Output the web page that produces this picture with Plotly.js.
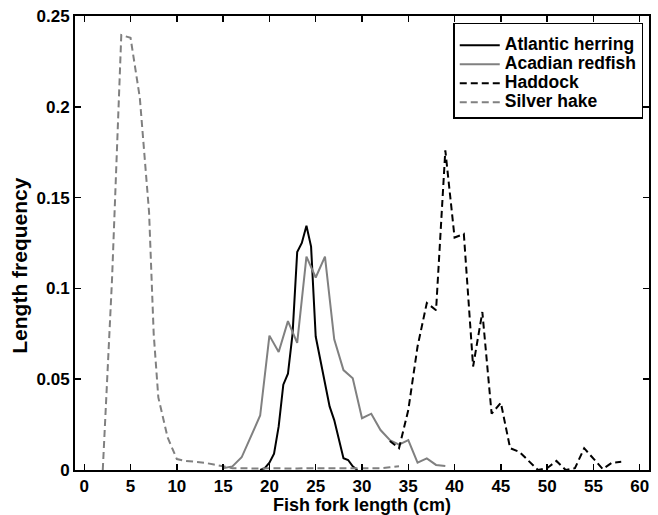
<!DOCTYPE html>
<html>
<head>
<meta charset="utf-8">
<script src="https://cdn.plot.ly/plotly-3.0.1.min.js"></script>
<style>html,body{margin:0;padding:0;background:#fff;}#chart{width:658px;height:515px;}</style>
</head>
<body>
<div id="chart"></div>
<script>
// Atlantic herring
const herringX = [19, 19.5, 20, 20.5, 21, 21.5, 22, 22.5, 23, 23.5, 24, 24.5, 25, 25.5, 26, 26.5, 27, 28, 28.5, 29, 29.5];
const herringY = [0, 0.001, 0.004, 0.009, 0.024, 0.047, 0.053, 0.075, 0.12, 0.125, 0.1345, 0.123, 0.0735, 0.0605, 0.0485, 0.035, 0.0275, 0.0065, 0.0055, 0.002, 0];
// Acadian redfish
const redfishX = [15, 16, 17, 18, 19, 20, 21, 22, 23, 24, 25, 26, 27, 28, 29, 30, 31, 32, 33, 34, 35, 36, 37, 38, 39];
const redfishY = [0.001, 0.002, 0.007, 0.019, 0.030, 0.074, 0.065, 0.082, 0.070, 0.1175, 0.106, 0.1175, 0.072, 0.055, 0.0505, 0.0285, 0.031, 0.022, 0.0165, 0.014, 0.0165, 0.004, 0.0064, 0.0028, 0.0022];
// Haddock
const haddockX = [33, 34, 35, 36, 37, 38, 39, 40, 41, 42, 43, 44, 45, 46, 47, 48, 49, 50, 51, 52, 53, 54, 55, 56, 57, 58];
const haddockY = [0.016, 0.012, 0.033, 0.068, 0.092, 0.088, 0.176, 0.128, 0.13, 0.057, 0.087, 0.031, 0.037, 0.012, 0.010, 0.005, 0, 0.001, 0.005, 0, 0.001, 0.012, 0.006, 0.0005, 0.004, 0.0045];
// Silver hake
const hakeX = [2, 3, 4, 5, 6, 7, 7.5, 8, 9, 10, 11, 12, 13, 14, 15, 16, 17, 18, 19, 20, 21, 22, 23, 24, 25, 26, 27, 28, 29, 30, 31, 32, 33, 34];
const hakeY = [0, 0.105, 0.2395, 0.238, 0.205, 0.142, 0.075, 0.04, 0.018, 0.006, 0.005, 0.0045, 0.004, 0.003, 0.002, 0.001, 0.001, 0.0008, 0.0008, 0.001, 0.0008, 0.001, 0.0008, 0.001, 0.001, 0.0008, 0.001, 0.0008, 0.001, 0.001, 0.0008, 0.001, 0.0015, 0.002];

const seriesNames = ['Atlantic herring', 'Acadian redfish', 'Haddock', 'Silver hake'];
const xTicks = [0, 5, 10, 15, 20, 25, 30, 35, 40, 45, 50, 55, 60];
const yTicks = [0, 0.05, 0.1, 0.15, 0.2, 0.25];
const yTickText = ['0', '0.05', '0.1', '0.15', '0.2', '0.25'];
const xTitle = 'Fish fork length (cm)';
const yTitle = 'Length frequency';

const black = '#000000';
const grey = '#808080';
const dashPat = '7px,4px';
const FONT = 'Liberation Sans, Arial, Helvetica, sans-serif';
const legendName = n => '<span style="font-size:17.5px">' + n + '</span>';

const traces = [
  {x: herringX, y: herringY, name: legendName(seriesNames[0]), mode: 'lines', line: {color: black, width: 2}},
  {x: redfishX, y: redfishY, name: legendName(seriesNames[1]), mode: 'lines', line: {color: grey, width: 2}},
  {x: haddockX, y: haddockY, name: legendName(seriesNames[2]), mode: 'lines', line: {color: black, width: 2, dash: dashPat}},
  {x: hakeX, y: hakeY, name: legendName(seriesNames[3]), mode: 'lines', line: {color: grey, width: 2, dash: dashPat}}
];

const axisCommon = {
  showline: true, linecolor: black, linewidth: 2, mirror: 'ticks',
  ticks: 'inside', ticklen: 6, tickwidth: 1.5, tickcolor: black,
  showgrid: false, zeroline: false,
  tickfont: {family: FONT, size: 17, color: black, weight: 'bold'}
};

const layout = {
  width: 658, height: 515,
  margin: {l: 75, r: 9, t: 16, b: 45},
  paper_bgcolor: '#fff', plot_bgcolor: '#fff',
  font: {family: FONT, color: black},
  showlegend: true,
  legend: {
    x: 0.99, xanchor: 'right', y: 0.985, yanchor: 'top',
    bgcolor: '#fff', bordercolor: black, borderwidth: 1.5,
    font: {family: FONT, size: 11.5, color: black, weight: 'bold'},
    title: {text: ' ', font: {family: FONT, size: 5, color: '#fff'}},
    itemwidth: 40,
    tracegroupgap: 0
  },
  xaxis: Object.assign({}, axisCommon, {
    range: [-1, 61], tickmode: 'array', tickvals: xTicks,
    title: {text: xTitle, font: {family: FONT, size: 18, color: black, weight: 'bold'}, standoff: 1}
  }),
  yaxis: Object.assign({}, axisCommon, {
    range: [0, 0.25], tickmode: 'array', tickvals: yTicks, ticktext: yTickText
  }),
  annotations: [{
    text: yTitle, textangle: -90, showarrow: false,
    xref: 'paper', yref: 'paper', x: -0.098, y: 0.4515,
    xanchor: 'center', yanchor: 'middle',
    font: {family: FONT, size: 21, color: black, weight: 'bold'}
  }]
};

Plotly.newPlot('chart', traces, layout, {displayModeBar: false, staticPlot: true});
</script>
</body>
</html>
